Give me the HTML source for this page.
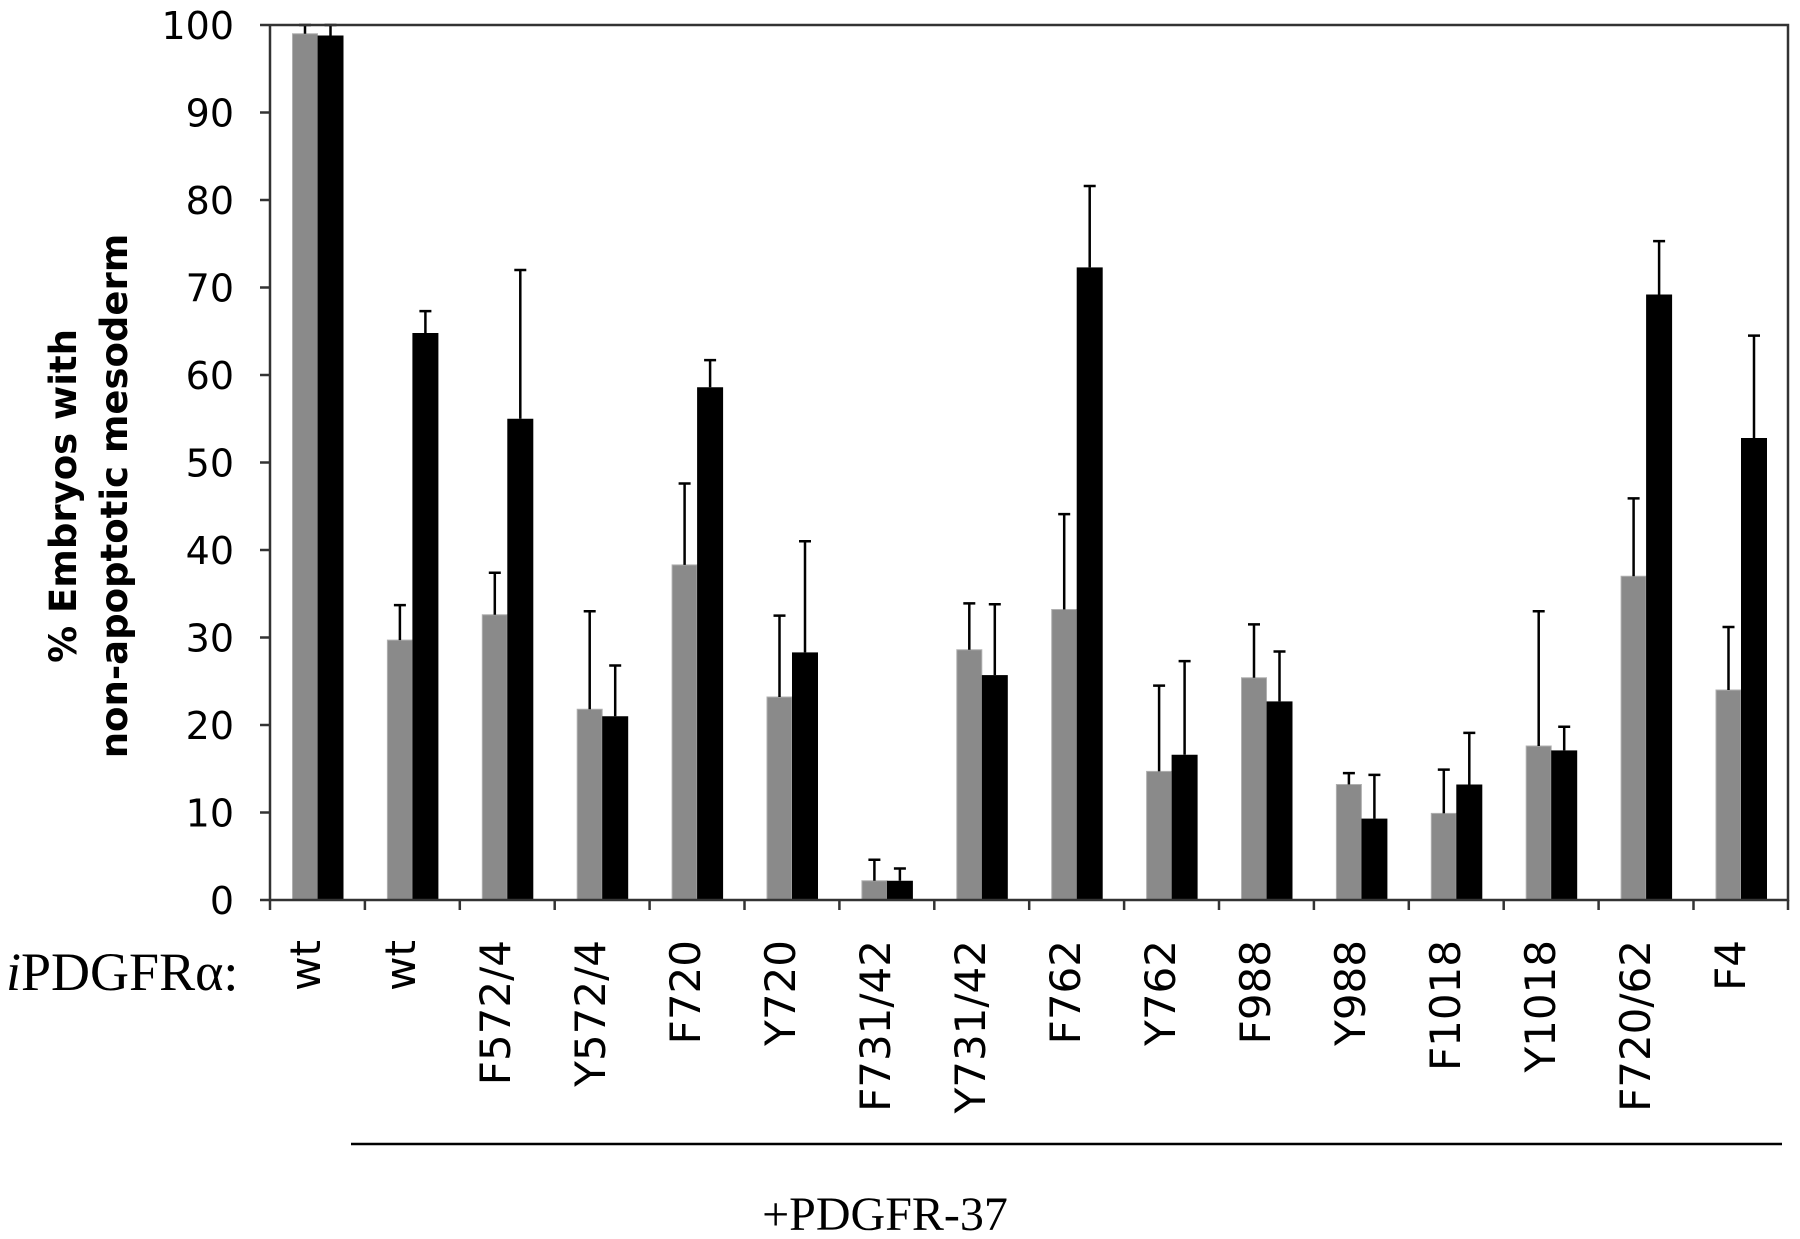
<!DOCTYPE html>
<html><head><meta charset="utf-8"><style>body{margin:0;background:#fff}svg{display:block}</style></head><body>
<svg width="1800" height="1239" xmlns="http://www.w3.org/2000/svg">
<g fill="#8a8a8a" stroke="#b0b0b0" stroke-width="1">
<rect x="292.5" y="33.75" width="25" height="866.25"/>
<rect x="387.4" y="640.1" width="25" height="259.9"/>
<rect x="482.3" y="614.75" width="25" height="285.25"/>
<rect x="577.2" y="709.25" width="25" height="190.75"/>
<rect x="672.1" y="564.9" width="25" height="335.1"/>
<rect x="767" y="697" width="25" height="203"/>
<rect x="861.9" y="880.75" width="25" height="19.25"/>
<rect x="956.8" y="649.75" width="25" height="250.25"/>
<rect x="1051.7" y="609.5" width="25" height="290.5"/>
<rect x="1146.6" y="771.4" width="25" height="128.6"/>
<rect x="1241.5" y="677.75" width="25" height="222.25"/>
<rect x="1336.4" y="784.5" width="25" height="115.5"/>
<rect x="1431.3" y="813.4" width="25" height="86.6"/>
<rect x="1526.2" y="746" width="25" height="154"/>
<rect x="1621.1" y="576.25" width="25" height="323.75"/>
<rect x="1716" y="690" width="25" height="210"/>
</g>
<g fill="#000">
<rect x="317.5" y="35.5" width="26" height="864.5"/>
<rect x="412.4" y="333" width="26" height="567"/>
<rect x="507.3" y="418.75" width="26" height="481.25"/>
<rect x="602.2" y="716.25" width="26" height="183.75"/>
<rect x="697.1" y="387.25" width="26" height="512.75"/>
<rect x="792" y="652.4" width="26" height="247.6"/>
<rect x="886.9" y="880.75" width="26" height="19.25"/>
<rect x="981.8" y="675.1" width="26" height="224.9"/>
<rect x="1076.7" y="267.4" width="26" height="632.6"/>
<rect x="1171.6" y="754.75" width="26" height="145.25"/>
<rect x="1266.5" y="701.4" width="26" height="198.6"/>
<rect x="1361.4" y="818.6" width="26" height="81.4"/>
<rect x="1456.3" y="784.5" width="26" height="115.5"/>
<rect x="1551.2" y="750.4" width="26" height="149.6"/>
<rect x="1646.1" y="294.5" width="26" height="605.5"/>
<rect x="1741" y="438" width="26" height="462"/>
</g>
<g stroke="#000" stroke-width="2.5" fill="none">
<path d="M305 33.75V25M299 25h12M330.5 35.5V25M324.5 25h12"/>
<path d="M399.9 640.1V605.1M393.9 605.1h12M425.4 333V311.1M419.4 311.1h12"/>
<path d="M494.8 614.75V572.75M488.8 572.75h12M520.3 418.75V270M514.3 270h12"/>
<path d="M589.7 709.25V611.25M583.7 611.25h12M615.2 716.25V665.5M609.2 665.5h12"/>
<path d="M684.6 564.9V483.5M678.6 483.5h12M710.1 387.25V360.1M704.1 360.1h12"/>
<path d="M779.5 697V615.6M773.5 615.6h12M805 652.4V541.25M799 541.25h12"/>
<path d="M874.4 880.75V859.75M868.4 859.75h12M899.9 880.75V868.5M893.9 868.5h12"/>
<path d="M969.3 649.75V603.4M963.3 603.4h12M994.8 675.1V604.25M988.8 604.25h12"/>
<path d="M1064.2 609.5V514.1M1058.2 514.1h12M1089.7 267.4V186M1083.7 186h12"/>
<path d="M1159.1 771.4V685.6M1153.1 685.6h12M1184.6 754.75V661.1M1178.6 661.1h12"/>
<path d="M1254 677.75V624.4M1248 624.4h12M1279.5 701.4V651.5M1273.5 651.5h12"/>
<path d="M1348.9 784.5V773.1M1342.9 773.1h12M1374.4 818.6V774.9M1368.4 774.9h12"/>
<path d="M1443.8 813.4V769.6M1437.8 769.6h12M1469.3 784.5V732.9M1463.3 732.9h12"/>
<path d="M1538.7 746V611.25M1532.7 611.25h12M1564.2 750.4V726.75M1558.2 726.75h12"/>
<path d="M1633.6 576.25V498.4M1627.6 498.4h12M1659.1 294.5V241.1M1653.1 241.1h12"/>
<path d="M1728.5 690V627M1722.5 627h12M1754 438V335.6M1748 335.6h12"/>
</g>
<g stroke="#333" stroke-width="2.5" fill="none">
<path d="M270 25V900H1788V25H270"/>
<path d="M260 25h10M260 112.5h10M260 200h10M260 287.5h10M260 375h10M260 462.5h10M260 550h10M260 637.5h10M260 725h10M260 812.5h10M260 900h10"/>
<path d="M270 900v10M364.9 900v10M459.8 900v10M554.7 900v10M649.6 900v10M744.5 900v10M839.4 900v10M934.3 900v10M1029.2 900v10M1124.1 900v10M1219 900v10M1313.9 900v10M1408.8 900v10M1503.7 900v10M1598.6 900v10M1693.5 900v10M1788 900v10"/>
</g>
<path d="M351 1144H1782" stroke="#000" stroke-width="2.5"/>
<g font-family="'DejaVu Sans',sans-serif" font-size="38" text-anchor="end" fill="#000">
<text x="234" y="39">100</text><text x="234" y="126.5">90</text><text x="234" y="214">80</text><text x="234" y="301.5">70</text><text x="234" y="389">60</text><text x="234" y="476.5">50</text><text x="234" y="564">40</text><text x="234" y="651.5">30</text><text x="234" y="739">20</text><text x="234" y="826.5">10</text><text x="234" y="914">0</text>
</g>
<g font-family="'DejaVu Sans',sans-serif" font-size="42" text-anchor="end" fill="#000">
<text transform="translate(320,940) rotate(-90)">wt</text>
<text transform="translate(415,940) rotate(-90)">wt</text>
<text transform="translate(510,940) rotate(-90)">F572/4</text>
<text transform="translate(605,940) rotate(-90)">Y572/4</text>
<text transform="translate(700,940) rotate(-90)">F720</text>
<text transform="translate(795,940) rotate(-90)">Y720</text>
<text transform="translate(890,940) rotate(-90)">F731/42</text>
<text transform="translate(985,940) rotate(-90)">Y731/42</text>
<text transform="translate(1080,940) rotate(-90)">F762</text>
<text transform="translate(1175,940) rotate(-90)">Y762</text>
<text transform="translate(1270,940) rotate(-90)">F988</text>
<text transform="translate(1365,940) rotate(-90)">Y988</text>
<text transform="translate(1460,940) rotate(-90)">F1018</text>
<text transform="translate(1555,940) rotate(-90)">Y1018</text>
<text transform="translate(1650,940) rotate(-90)">F720/62</text>
<text transform="translate(1745,940) rotate(-90)">F4</text>
</g>
<g font-family="'DejaVu Sans',sans-serif" font-size="37" font-weight="bold" text-anchor="middle" fill="#000">
<text transform="translate(76,496) rotate(-90)">% Embryos with</text>
<text transform="translate(127,496) rotate(-90)">non-apoptotic mesoderm</text>
</g>
<g font-family="'Liberation Serif',serif" fill="#000">
<text x="6" y="990" font-size="54"><tspan font-style="italic">i</tspan>PDGFRα:</text>
<text x="885" y="1230" font-size="48" text-anchor="middle">+PDGFR-37</text>
</g>
</svg>
</body></html>
